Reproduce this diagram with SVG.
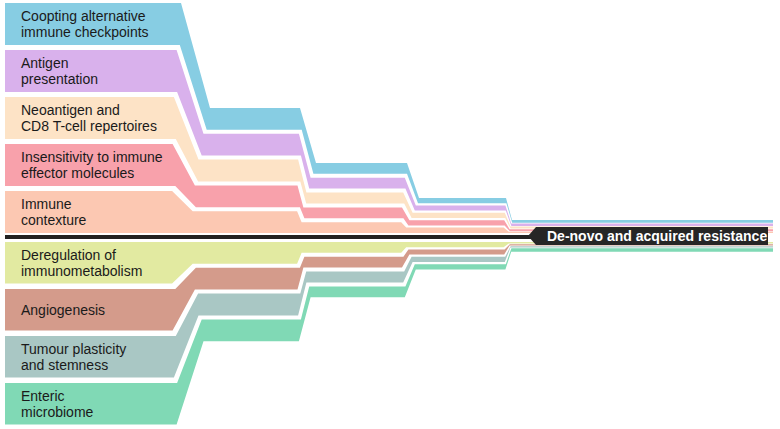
<svg xmlns="http://www.w3.org/2000/svg" width="780" height="429" viewBox="0 0 780 429">
<style>
.lbl{font-family:"Liberation Sans",Arial,sans-serif;font-size:14px;fill:#1a1a1a}
.res{font-family:"Liberation Sans",Arial,sans-serif;font-size:14px;font-weight:bold;fill:#ffffff}
.b1{fill:#87cde3}.b2{fill:#d9b1ec}.b3{fill:#fde3c6}.b4{fill:#f8a1ab}.b5{fill:#fcc8b2}
.b6{fill:#e2eaa1}.b7{fill:#d49b8b}.b8{fill:#a9c7c4}.b9{fill:#80d9b5}
</style>
<rect width="780" height="429" fill="#ffffff"/>
<g id="node-coopting">
<polygon class="b1" points="5,3 181,3 210,108 300,108 316,163 407,163 419,198 506,198 512,220 773,220 773,222.8 512.2,222.8 506.4,203.2 418,203.2 407,173.8 313.4,173.8 301.7,129.8 206.7,129.8 179.8,45 5,45"/>
<text class="lbl" x="21" y="21">Coopting alternative</text>
<text class="lbl" x="21" y="37">immune checkpoints</text>
</g>
<g id="node-antigen">
<polygon class="b2" points="5,50 176.6,50 203.5,133.8 298.9,133.8 310.6,177.8 404.8,177.8 415.8,205.4 505.4,205.4 511.2,223.4 773,223.4 773,226 511.4,226 505.8,210.6 414.8,210.6 405.4,188.6 309.2,188.6 300.9,155.6 201.7,155.6 177.1,92 5,92"/>
<text class="lbl" x="21" y="68">Antigen</text>
<text class="lbl" x="21" y="84">presentation</text>
</g>
<g id="node-neoantigen">
<polygon class="b3" points="5,97 173.9,97 198.5,159.6 298.1,159.6 306.4,192.6 403.2,192.6 412.6,212.8 504.8,212.8 510.4,226.6 773,226.6 773,228.6 510.6,228.6 505.2,218 411.6,218 404.2,203.4 306.2,203.4 300.3,181.4 198.1,181.4 175.8,139 5,139"/>
<text class="lbl" x="21" y="115">Neoantigen and</text>
<text class="lbl" x="21" y="131">CD8 T-cell repertoires</text>
</g>
<g id="node-insensitivity">
<polygon class="b4" points="5,144 172.6,144 194.9,185.4 297.5,185.4 303.4,207.4 402,207.4 409.4,220.2 504.2,220.2 509.6,229.2 773,229.2 773,231.2 509.8,231.2 504.6,225.4 408.4,225.4 403.4,218.2 304.4,218.2 299.9,207.2 195.9,207.2 175.3,186 5,186"/>
<text class="lbl" x="21" y="162">Insensitivity to immune</text>
<text class="lbl" x="21" y="178">effector molecules</text>
</g>
<g id="node-contexture">
<polygon class="b5" points="5,191 172.1,191 192.7,211.2 297.1,211.2 301.6,222.2 401.2,222.2 406.2,227.6 503.6,227.6 508.8,231.8 773,231.8 773,233 5,233"/>
<text class="lbl" x="21" y="209">Immune</text>
<text class="lbl" x="21" y="225">contexture</text>
</g>
<g id="node-immunometabolism">
<polygon class="b6" points="5,242 773,242 773,243.6 508.8,243.6 503.6,247.2 406.2,247.2 401.2,252.8 301.6,252.8 297.1,263.8 192.7,263.8 172.1,283.5 5,283.5"/>
<text class="lbl" x="21" y="260">Deregulation of</text>
<text class="lbl" x="21" y="276">immunometabolism</text>
</g>
<g id="node-angiogenesis">
<polygon class="b7" points="5,289 175.3,289 195.9,267.8 299.9,267.8 304.4,256.8 403.4,256.8 408.4,249.4 504.6,249.4 509.8,244.2 773,244.2 773,245.6 509.6,245.6 504.2,254.6 409.4,254.6 402,267.6 303.4,267.6 297.5,289.6 194.9,289.6 172.6,330.5 5,330.5"/>
<text class="lbl" x="21" y="314.5">Angiogenesis</text>
</g>
<g id="node-plasticity">
<polygon class="b8" points="5,336 175.8,336 198.1,293.6 300.3,293.6 306.2,271.6 404.2,271.6 411.6,256.8 505.2,256.8 510.6,246.2 773,246.2 773,247.6 510.4,247.6 504.8,262 412.6,262 403.2,282.4 306.4,282.4 298.1,315.4 198.5,315.4 173.9,377.5 5,377.5"/>
<text class="lbl" x="21" y="354">Tumour plasticity</text>
<text class="lbl" x="21" y="370">and stemness</text>
</g>
<g id="node-microbiome">
<polygon class="b9" points="5,383 177.1,383 201.7,319.4 300.9,319.4 309.2,286.4 405.4,286.4 414.8,264.2 505.8,264.2 511.4,248.3 773,248.3 773,251.8 511.2,251.8 505.4,269.4 415.8,269.4 404.8,297.2 310.6,297.2 298.9,341.2 203.5,341.2 176.6,424.5 5,424.5"/>
<text class="lbl" x="21" y="401">Enteric</text>
<text class="lbl" x="21" y="417">microbiome</text>
</g>
<g id="connectors">
<rect x="5" y="235" width="527" height="4" fill="#222222"/>
</g>
<g id="node-resistance">
<polygon points="528,236 536,227 768,227 768,245 536,245" fill="#262626"/>
<text class="res" x="547" y="241">De-novo and acquired resistance</text>
</g>
</svg>
